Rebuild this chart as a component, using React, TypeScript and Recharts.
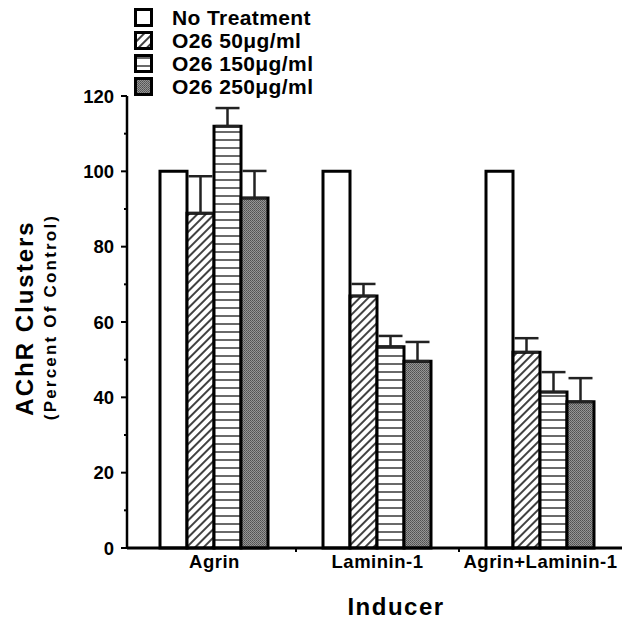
import { Bar, BarChart, ErrorBar, Legend, XAxis, YAxis } from "recharts";

const CATEGORIES = ["Agrin", "Laminin-1", "Agrin+Laminin-1"];
const NO_TREATMENT = [100, 100, 100];
const O26_50 = [88.9, 66.9, 52.0];
const O26_50_ERR = [9.8, 3.2, 3.7];
const O26_150 = [112.0, 53.4, 41.4];
const O26_150_ERR = [4.8, 2.9, 5.3];
const O26_250 = [92.9, 49.6, 38.8];
const O26_250_ERR = [7.2, 5.1, 6.3];
const Y_TICKS = [0, 10, 20, 30, 40, 50, 60, 70, 80, 90, 100, 110, 120];

const FONT = "'Liberation Sans', Arial, Helvetica, sans-serif";
const BAND = 163;

const SERIES = [
  { key: "none", name: "No Treatment", fill: "#ffffff", err: null },
  { key: "o50", name: "O26 50μg/ml", fill: "url(#hatch)", err: "o50Err" },
  { key: "o150", name: "O26 150μg/ml", fill: "url(#hlines)", err: "o150Err" },
  { key: "o250", name: "O26 250μg/ml", fill: "url(#stipple)", err: "o250Err" },
];

const data = CATEGORIES.map((inducer, i) => ({
  inducer,
  none: NO_TREATMENT[i],
  o50: O26_50[i],
  o50Err: [0, O26_50_ERR[i]],
  o150: O26_150[i],
  o150Err: [0, O26_150_ERR[i]],
  o250: O26_250[i],
  o250Err: [0, O26_250_ERR[i]],
}));

function YTick(props: any) {
  const { x, y, payload } = props;
  const v = payload.value;
  const major = v % 20 === 0;
  return (
    <g>
      <line x1={x - (major ? 6 : 3)} x2={x} y1={y} y2={y} stroke="#000" strokeWidth={2} />
      {major && (
        <text x={x - 13} y={y} dy={6.5} textAnchor="end" fontFamily={FONT} fontWeight="bold" fontSize={18.5} fill="#000">
          {v}
        </text>
      )}
    </g>
  );
}

function XTick(props: any) {
  const { x, y, payload, index } = props;
  return (
    <g>
      {index < CATEGORIES.length - 1 && (
        <line x1={x + BAND / 2} x2={x + BAND / 2} y1={y} y2={y + 4} stroke="#000" strokeWidth={2} />
      )}
      <text x={x} y={y + 20} textAnchor="middle" fontFamily={FONT} fontWeight="bold" fontSize={18.5} letterSpacing={0.5} fill="#000">
        {payload.value}
      </text>
    </g>
  );
}

function YLabel() {
  return (
    <g fontFamily={FONT} fontWeight="bold" fill="#000">
      <text x={24} y={318} transform="rotate(-90 24 318)" textAnchor="middle" dominantBaseline="central" fontSize={24} letterSpacing={2}>
        AChR Clusters
      </text>
      <text x={50} y={317} transform="rotate(-90 50 317)" textAnchor="middle" dominantBaseline="central" fontSize={17} letterSpacing={2.2}>
        (Percent Of Control)
      </text>
    </g>
  );
}

function XLabel() {
  return (
    <text x={396} y={615} textAnchor="middle" fontFamily={FONT} fontWeight="bold" fontSize={24} letterSpacing={1.5} fill="#000">
      Inducer
    </text>
  );
}

function LegendBox() {
  return (
    <div style={{ fontFamily: FONT }}>
      {SERIES.map((s) => (
        <div key={s.key} style={{ display: "flex", alignItems: "center", height: 23 }}>
          <svg width={20} height={20} style={{ marginRight: 18 }}>
            <rect x={1.5} y={1.5} width={16} height={16} fill={s.fill} stroke="#000" strokeWidth={3} />
          </svg>
          <span style={{ fontWeight: "bold", fontSize: 21, letterSpacing: 0.4, color: "#000" }}>{s.name}</span>
        </div>
      ))}
    </div>
  );
}

export default function App() {
  return (
    <div style={{ position: "absolute", left: 0, top: 0, width: 630, height: 628, background: "#fff" }}>
      <svg width={0} height={0} style={{ position: "absolute" }}>
        <defs>
          <pattern id="hatch" patternUnits="userSpaceOnUse" width={6} height={6} patternTransform="rotate(45)">
            <rect width={6} height={6} fill="#fff" />
            <line x1={3} y1={0} x2={3} y2={6} stroke="#111" strokeWidth={1.6} />
          </pattern>
          <pattern id="hlines" patternUnits="userSpaceOnUse" width={8} height={8}>
            <rect width={8} height={8} fill="#fff" />
            <line x1={0} y1={4} x2={8} y2={4} stroke="#444" strokeWidth={1.6} />
          </pattern>
          <pattern id="stipple" patternUnits="userSpaceOnUse" width={2} height={2}>
            <rect width={2} height={2} fill="#959595" />
            <rect width={1} height={1} fill="#505050" />
            <rect x={1} y={1} width={1} height={1} fill="#606060" />
          </pattern>
        </defs>
      </svg>
      <BarChart
        width={630}
        height={628}
        data={data}
        margin={{ top: 96, right: 8, left: 67, bottom: 50 }}
        barCategoryGap={27}
        barGap={0}
      >
        <XAxis
          dataKey="inducer"
          height={30}
          padding={{ left: 6, right: 0 }}
          axisLine={{ stroke: "#000", strokeWidth: 3 }}
          tickLine={false}
          tickSize={0}
          tickMargin={0}
          tick={<XTick />}
          interval={0}
          label={{ content: () => <XLabel /> }}
        />
        <YAxis
          width={60}
          domain={[0, 120]}
          ticks={Y_TICKS}
          interval={0}
          axisLine={{ stroke: "#000", strokeWidth: 2.5 }}
          tickLine={false}
          tickSize={0}
          tickMargin={0}
          tick={<YTick />}
          label={{ content: () => <YLabel /> }}
        />
        <Legend
          layout="vertical"
          align="center"
          verticalAlign="middle"
          wrapperStyle={{ left: 134, top: 6, width: 260 }}
          content={() => <LegendBox />}
        />
        {SERIES.map((s) => (
          <Bar key={s.key} dataKey={s.key} name={s.name} fill={s.fill} stroke="#000" strokeWidth={3} isAnimationActive={false}>
            {s.err && <ErrorBar dataKey={s.err} width={12} stroke="#222" strokeWidth={2.5} direction="y" />}
          </Bar>
        ))}
      </BarChart>
    </div>
  );
}
